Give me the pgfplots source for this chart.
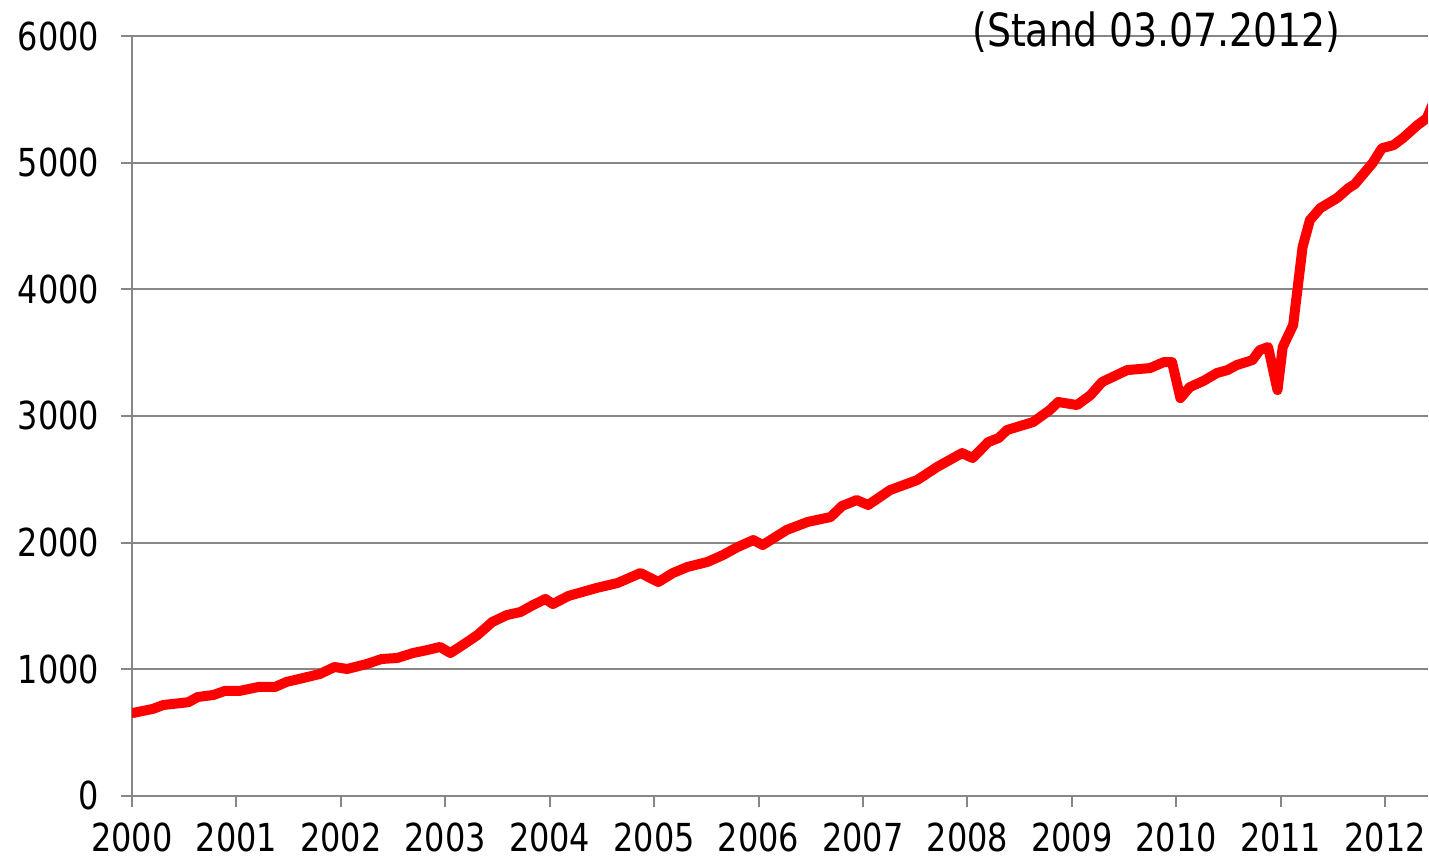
\documentclass[border=0pt]{standalone}
\usepackage{fontspec}
\setmainfont{DejaVu Sans Condensed}[FakeStretch=0.92]
\usepackage{pgfplots}
\pgfplotsset{compat=1.18}
\definecolor{gridgray}{RGB}{134,134,134}
\begin{document}
\begin{tikzpicture}
\useasboundingbox (-46.2pt,-23.1pt) rectangle (454pt,278.6pt);
\begin{axis}[
  at={(0,0)}, anchor=south west,
  scale only axis, width=453.6pt, height=266pt,
  xmin=2000, xmax=2012.41, ymin=0, ymax=6000,
  axis x line=bottom, axis y line=left,
  axis line style={-, gridgray, line width=0.7pt},
  xtick={2000,2001,...,2012},
  ytick={0,1000,...,6000},
  ymajorgrids, major grid style={gridgray, line width=0.7pt},
  tick align=outside, major tick length=4pt,
  tick style={gridgray, line width=0.7pt},
  /pgf/number format/1000 sep={},
  /pgf/number format/assume math mode=true,
  ticklabel style={font=\fontsize{13.5}{15}\selectfont, text=black},
  yticklabel style={xshift=-4pt},
  xticklabel style={yshift=-2pt},
  clip mode=individual,
]
\addplot[red, line width=3.5pt, line join=round, line cap=round] coordinates {
(2000.01,655) (2000.20,687) (2000.30,718) (2000.48,734) (2000.54,740)
(2000.63,781) (2000.78,797) (2000.89,829) (2001.03,829) (2001.21,860)
(2001.37,860) (2001.48,900) (2001.64,931) (2001.80,963) (2001.94,1018)
(2002.06,1002) (2002.25,1042) (2002.39,1081) (2002.54,1089) (2002.69,1128)
(2002.83,1152) (2002.95,1176) (2003.05,1128) (2003.21,1215) (2003.31,1271)
(2003.45,1373) (2003.59,1428) (2003.72,1452) (2003.84,1507) (2003.96,1555)
(2004.03,1515) (2004.18,1579) (2004.45,1642) (2004.65,1681) (2004.87,1760)
(2005.04,1689) (2005.18,1760) (2005.32,1808) (2005.51,1847) (2005.66,1902)
(2005.80,1965) (2005.95,2020) (2006.04,1981) (2006.27,2100) (2006.47,2163)
(2006.69,2202) (2006.80,2289) (2006.94,2336) (2007.05,2297) (2007.26,2415)
(2007.52,2494) (2007.71,2597) (2007.95,2707) (2008.05,2668) (2008.20,2794)
(2008.30,2826) (2008.38,2889) (2008.63,2952) (2008.79,3047) (2008.87,3110)
(2009.05,3086) (2009.18,3165) (2009.29,3268) (2009.53,3362) (2009.75,3378)
(2009.88,3425) (2009.96,3425) (2010.04,3141) (2010.13,3228) (2010.26,3276)
(2010.39,3339) (2010.49,3362) (2010.58,3402) (2010.73,3441) (2010.80,3520)
(2010.88,3544) (2010.97,3204) (2011.02,3544) (2011.12,3718) (2011.21,4333)
(2011.28,4546) (2011.38,4641) (2011.54,4720) (2011.65,4799) (2011.71,4830)
(2011.88,4996) (2011.97,5114) (2012.08,5138) (2012.17,5193) (2012.31,5296)
(2012.40,5351) (2012.45,5450)
};
\node[anchor=base, font=\fontsize{16}{18}\selectfont, inner sep=0pt] at (axis cs:2009.81,5915) {(Stand 03.07.2012)};
\end{axis}
\end{tikzpicture}
\end{document}
